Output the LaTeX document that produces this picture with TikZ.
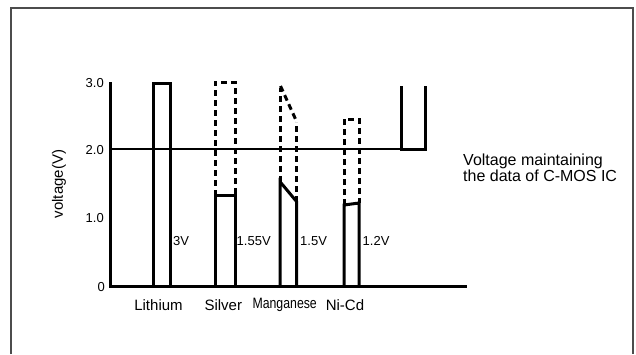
\documentclass[tikz,border=0pt]{standalone}
\usepackage{fontspec}
\setmainfont{Liberation Sans}
\begin{document}
\begin{tikzpicture}[x=1pt,y=-1pt,
  frameline/.style={draw=black!70,line width=1.8pt},
  axisline/.style={line width=3pt,line cap=rect},
  barline/.style={line width=3pt,line join=miter},
  dashline/.style={line width=3pt,dash pattern=on 6pt off 4pt},
  thinline/.style={line width=1.5pt},
  ticklabel/.style={anchor=east,inner sep=0pt,font=\fontsize{13}{13}\selectfont},
  vlabel/.style={anchor=west,inner sep=0pt,font=\fontsize{13}{13}\selectfont},
  catlabel/.style={inner sep=0pt,font=\fontsize{15}{15}\selectfont},
  notelabel/.style={anchor=west,align=left,inner sep=0pt,font=\fontsize{16}{16.5}\selectfont}]
\useasboundingbox (0,0) rectangle (636,354);
% frame (open at bottom)
\draw[frameline] (11,354) -- (11,8) -- (633,8) -- (633,354);
% reference line at 2.0 V
\coordinate (ref0) at (110,149);
\coordinate (refU) at (401.7,149);
\draw[thinline] (ref0) -- (refU);
% axes
\coordinate (ytop) at (110,83);
\coordinate (orig) at (110,286);
\coordinate (xend) at (465,286);
\draw[axisline] (ytop) -- (orig) -- (xend);
% Lithium
\draw[barline] (153,286) rectangle (170,83);
% Silver
\draw[barline] (215,286) rectangle (235,195.7);
\draw[dashline] (215,195.7) -- (215,82) -- (235,82) -- (235,195.7);
% Manganese
\draw[barline] (280,286) -- (280,181.7) -- (296.7,201.7) -- (296.7,286);
\draw[dashline] (280,181.7) -- (280,88);
\draw[dashline] (296.7,201.7) -- (296.7,121.7);
\draw[dashline] (280.5,86) -- (296.7,121.7);
% Ni-Cd
\draw[barline] (344,286) -- (344,205) -- (359,203) -- (359,286);
\draw[dashline] (344,205) -- (344,119) -- (359,119) -- (359,203);
% C-MOS U shape
\draw[barline] (401.7,86) -- (refU) -- (425,149) -- (425,86);
% tick labels
\node[ticklabel] (t3) at (104,83.5) {3.0};
\node[ticklabel] (t2) at (104,150) {2.0};
\node[ticklabel] (t1) at (104,218) {1.0};
\node[ticklabel] (t0) at (105,287) {0};
% axis title
\node[catlabel,rotate=90] (ytitle) at (59,184) {voltage(V)};
% value labels
\node[vlabel] (v1) at (173,241) {3V};
\node[vlabel] (v2) at (236.5,241) {1.55V};
\node[vlabel] (v3) at (300,241) {1.5V};
\node[vlabel] (v4) at (362.5,241) {1.2V};
% category labels
\node[catlabel] (c1) at (158.5,305) {Lithium};
\node[catlabel] (c2) at (223.3,305) {Silver};
\node[catlabel] (c3) at (284.7,305) {\scalebox{0.82}[1]{Manganese}};
\node[catlabel] (c4) at (345,305) {Ni-Cd};
% note
\node[notelabel] (note) at (463,168) {Voltage maintaining\\the data of C-MOS IC};
\end{tikzpicture}
\end{document}
